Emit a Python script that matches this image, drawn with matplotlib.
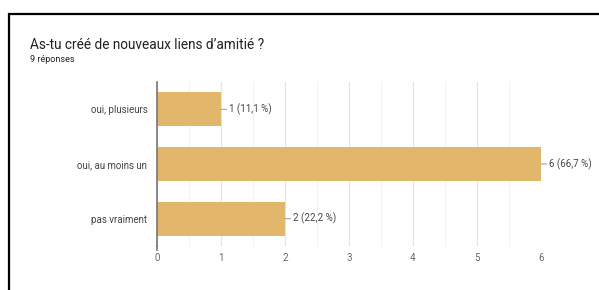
import matplotlib.pyplot as plt
from matplotlib.patches import Rectangle
from matplotlib.ticker import MultipleLocator

plt.rcParams["font.family"] = ["Roboto", "DejaVu Sans"]

title = "As-tu créé de nouveaux liens d’amitié ?"
subtitle = "9 réponses"
categories = ["oui, plusieurs", "oui, au moins un", "pas vraiment"]
counts = [1, 6, 2]
labels = ["1 (11,1 %)", "6 (66,7 %)", "2 (22,2 %)"]
xticks = [0, 1, 2, 3, 4, 5, 6]

BAR = "#e2b76c"

fig = plt.figure(figsize=(5.99, 2.90), dpi=100)
ax = fig.add_axes([157 / 599, 1 - 246 / 290, 384 / 599, 164 / 290])

# card border (top and left edges visible in the crop)
fig.patches.append(Rectangle((8.5 / 599, -0.1), 1.2, 1 - 13.5 / 290 + 0.1,
                             transform=fig.transFigure, fill=False,
                             lw=1.6, ec="black"))

ypos = list(range(len(categories)))
ax.barh(ypos, counts, height=0.62, color=BAR, zorder=2)

for y, c, lab in zip(ypos, counts, labels):
    ax.annotate(lab, xy=(c, y), xytext=(6, 0), textcoords="offset points",
                va="center", ha="left", fontsize=7, color="#444444",
                arrowprops=dict(arrowstyle="-", color="#999999", lw=0.7,
                                shrinkA=0, shrinkB=0))

ax.set_xlim(0, 6)
ax.set_ylim(len(categories) - 0.5, -0.5)
ax.set_yticks(ypos)
ax.set_yticklabels(categories, fontsize=7, color="#444444")
ax.set_xticks(xticks)
ax.set_xticklabels([str(t) for t in xticks], fontsize=7, color="#666666")
ax.xaxis.set_minor_locator(MultipleLocator(0.5))
ax.tick_params(axis="y", length=0, pad=7)
ax.tick_params(axis="x", length=0, pad=5)
ax.tick_params(axis="x", which="minor", length=0)
ax.grid(axis="x", which="major", color="#e4e4e4", lw=0.8, zorder=0)
ax.grid(axis="x", which="minor", color="#f3f3f3", lw=0.8, zorder=0)
ax.axhline(len(categories) - 0.5, color="#e4e4e4", lw=0.8, zorder=1)

for side in ["top", "right", "bottom"]:
    ax.spines[side].set_visible(False)
ax.spines["left"].set_color("#777777")
ax.spines["left"].set_linewidth(1.2)
ax.spines["left"].set_zorder(3)
# axis line runs a little below the plot area
ax.plot([0, 0], [len(categories) - 0.5, len(categories) - 0.42],
        color="#777777", lw=1.2, clip_on=False, zorder=3)

fig.text(30 / 599, 1 - 45 / 290, title, fontsize=9.8, color="#202124",
         va="center", ha="left")
fig.text(30 / 599, 1 - 59 / 290, subtitle, fontsize=6.5, color="#202124",
         va="center", ha="left")

fig.savefig("out.png", dpi=100)
